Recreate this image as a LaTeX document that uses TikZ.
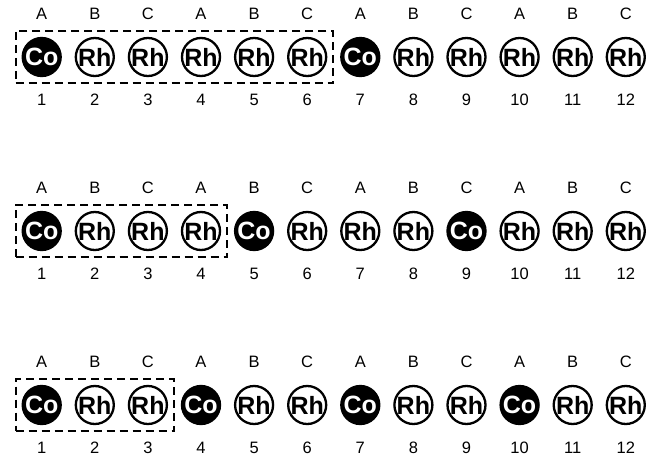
\documentclass[tikz,border=0pt]{standalone}
\usepackage{fontspec}
\setmainfont{Liberation Sans}
\usepackage{tikz}
\usetikzlibrary{positioning, fit}
\tikzset{
  atom/.style  = {circle, draw=black, line width=2.3pt, minimum size=38pt,
                  inner sep=0pt, font=\fontsize{25}{25}\selectfont\bfseries},
  co/.style    = {atom, fill=black, text=white},
  rh/.style    = {atom, fill=white, text=black},
  site/.style  = {inner sep=1pt, font=\fontsize{16.5}{16.5}\selectfont},
  cell/.style  = {draw=black, line width=2pt, dash pattern=on 8pt off 5pt,
                  inner xsep=6pt, inner ysep=6pt},
}

\begin{document}
\begin{tikzpicture}[x=1pt, y=-1pt]
  \useasboundingbox (0,0) rectangle (649,461);

  % three stackings: Co every 6th, 4th and 3rd layer
  \foreach \row/\ypos/\per in {1/57/6, 2/231/4, 3/405/3} {
    \foreach \i in {1,...,12} {
      \pgfmathtruncatemacro\m{mod(\i-1,\per)}
      \pgfmathtruncatemacro\s{mod(\i-1,3)}
      \ifnum\m=0 \def\kind{co}\def\el{Co}\else\def\kind{rh}\def\el{Rh}\fi
      \node[\kind] (a\row-\i) at ({41.7+(\i-1)*53.1}, \ypos) {\el};
      \node[site] (s\row-\i) at ({41.7+(\i-1)*53.1}, \ypos-43)
        {\ifcase\s A\or B\or C\fi};
      \node[site] (n\row-\i) at ({41.7+(\i-1)*53.1}, \ypos+43) {\i};
    }
    \node[cell, fit=(a\row-1)(a\row-\per)] (box\row) {};
  }

\end{tikzpicture}
\end{document}
